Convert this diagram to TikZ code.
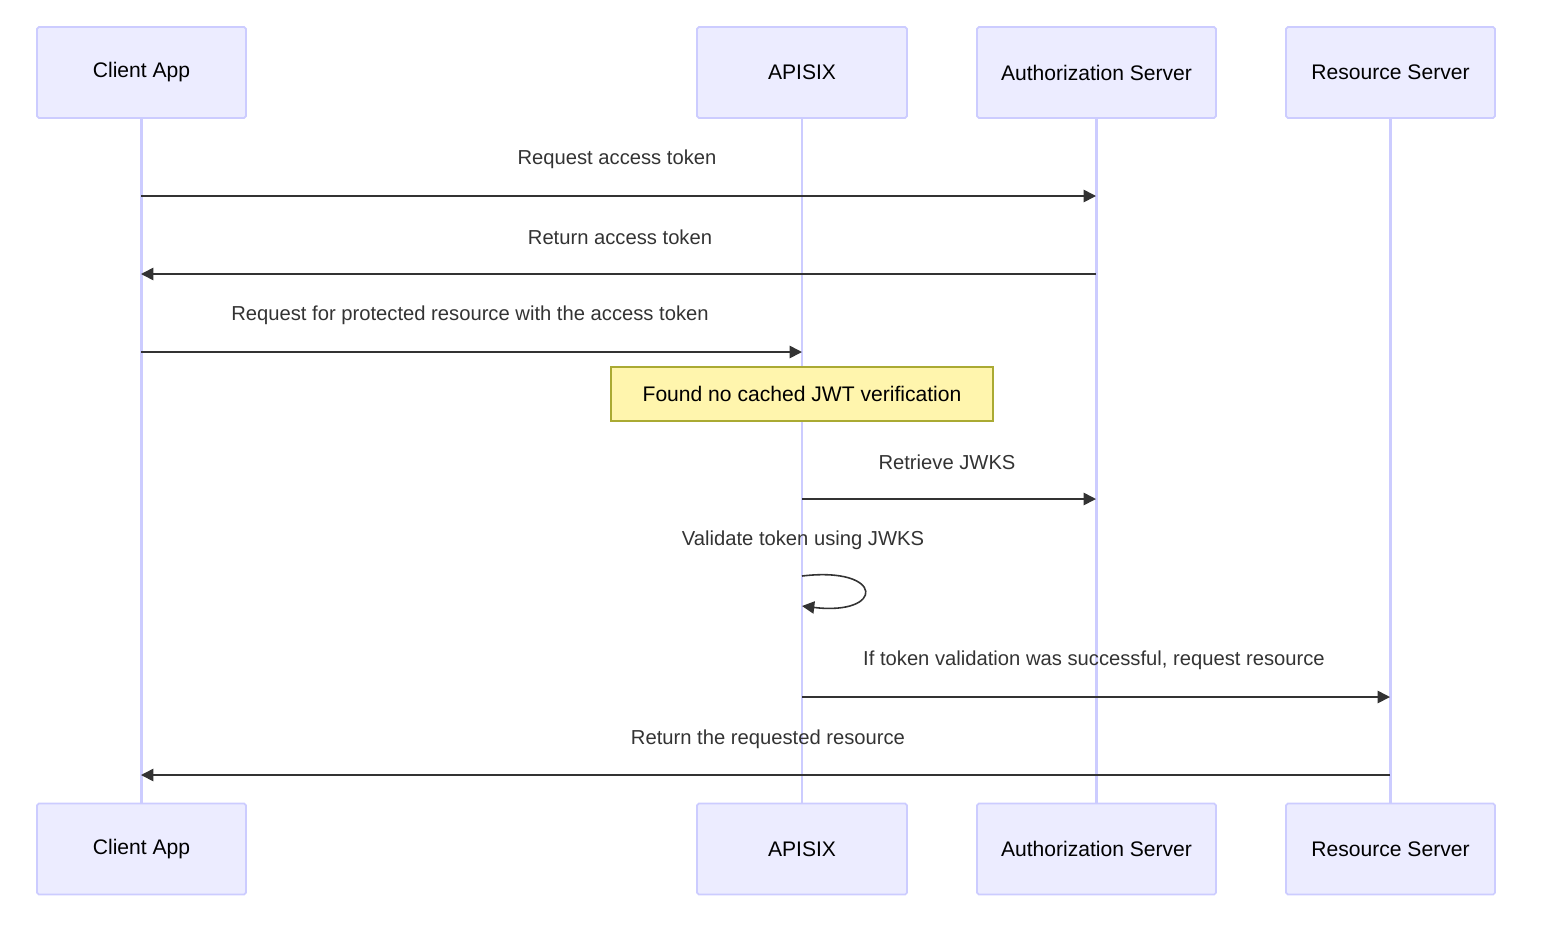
\documentclass[tikz,border=0pt]{standalone}
\usepackage{fontspec}
\setmainfont{Liberation Sans}
\usetikzlibrary{arrows.meta}
\definecolor{boxfill}{HTML}{ECECFF}
\definecolor{boxline}{HTML}{CCCCFF}
\definecolor{notefill}{HTML}{FFF5AD}
\definecolor{noteline}{HTML}{AAAA33}
\definecolor{msg}{HTML}{333333}
\tikzset{
	actor/.style={draw=boxline, fill=boxfill, line width=1pt, rounded corners=1pt, minimum height=1.82cm, font=\fontsize{12}{14}\selectfont},
	life/.style={draw=boxline, line width=1.2pt},
	arr/.style={draw=msg, line width=0.9pt, -{Triangle[length=7pt,width=7pt]}},
	lbl/.style={font=\fontsize{11.5}{14}\selectfont, text=msg}
}
\begin{document}
\begin{tikzpicture}[x=0.02cm,y=-0.02cm]
	\useasboundingbox (0,0) rectangle (1541,927);

	\node[actor, minimum width=4.18cm] (ct) at (141.5,72.5) {Client App};
	\node[actor, minimum width=4.2cm] (at) at (802,72.5) {APISIX};
	\node[actor, minimum width=4.78cm] (st) at (1096.5,72.5) {Authorization Server};
	\node[actor, minimum width=4.18cm] (rt) at (1390.5,72.5) {Resource Server};

	\node[actor, minimum width=4.18cm] (cb) at (141.5,849) {Client App};
	\node[actor, minimum width=4.2cm] (ab) at (802,849) {APISIX};
	\node[actor, minimum width=4.78cm] (sb) at (1096.5,849) {Authorization Server};
	\node[actor, minimum width=4.18cm] (rb) at (1390.5,849) {Resource Server};

	\draw[life] (ct) -- (cb);
	\draw[life] (at) -- (ab);
	\draw[life] (st) -- (sb);
	\draw[life] (rt) -- (rb);

	\coordinate (c1) at (141,196);  \coordinate (s1) at (1096,196);
	\coordinate (c2) at (141,274);  \coordinate (s2) at (1096,274);
	\coordinate (c3) at (141,352);  \coordinate (a3) at (802,352);
	\coordinate (a4) at (802,499);  \coordinate (s4) at (1096,499);
	\coordinate (a5) at (802,576);  \coordinate (a6) at (802,606);
	\coordinate (a7) at (802,697);  \coordinate (r7) at (1390,697);
	\coordinate (c8) at (141,775);  \coordinate (r8) at (1390,775);

	\draw[arr] (c1) -- (s1);
	\node[lbl] (m1) at (617,159) {Request access token};
	\draw[arr] (s2) -- (c2);
	\node[lbl] (m2) at (620,237) {Return access token};
	\draw[arr] (c3) -- (a3);
	\node[lbl] (m3) at (470,315) {Request for protected resource with the access token};

	\node[draw=noteline, fill=notefill, line width=0.8pt, minimum width=7.64cm, minimum height=1.08cm, font=\fontsize{12}{14}\selectfont] (note) at (802,394) {Found no cached JWT verification};

	\draw[arr] (a4) -- (s4);
	\node[lbl] (m4) at (947,462) {Retrieve JWKS};
	\draw[arr] (a5) .. controls (885,566) and (885,616) .. (a6);
	\node[lbl] (m5) at (803,540) {Validate token using JWKS};
	\draw[arr] (a7) -- (r7);
	\node[lbl] (m6) at (1094,660) {If token validation was successful, request resource};
	\draw[arr] (r8) -- (c8);
	\node[lbl] (m7) at (768,739) {Return the requested resource};
\end{tikzpicture}
\end{document}
